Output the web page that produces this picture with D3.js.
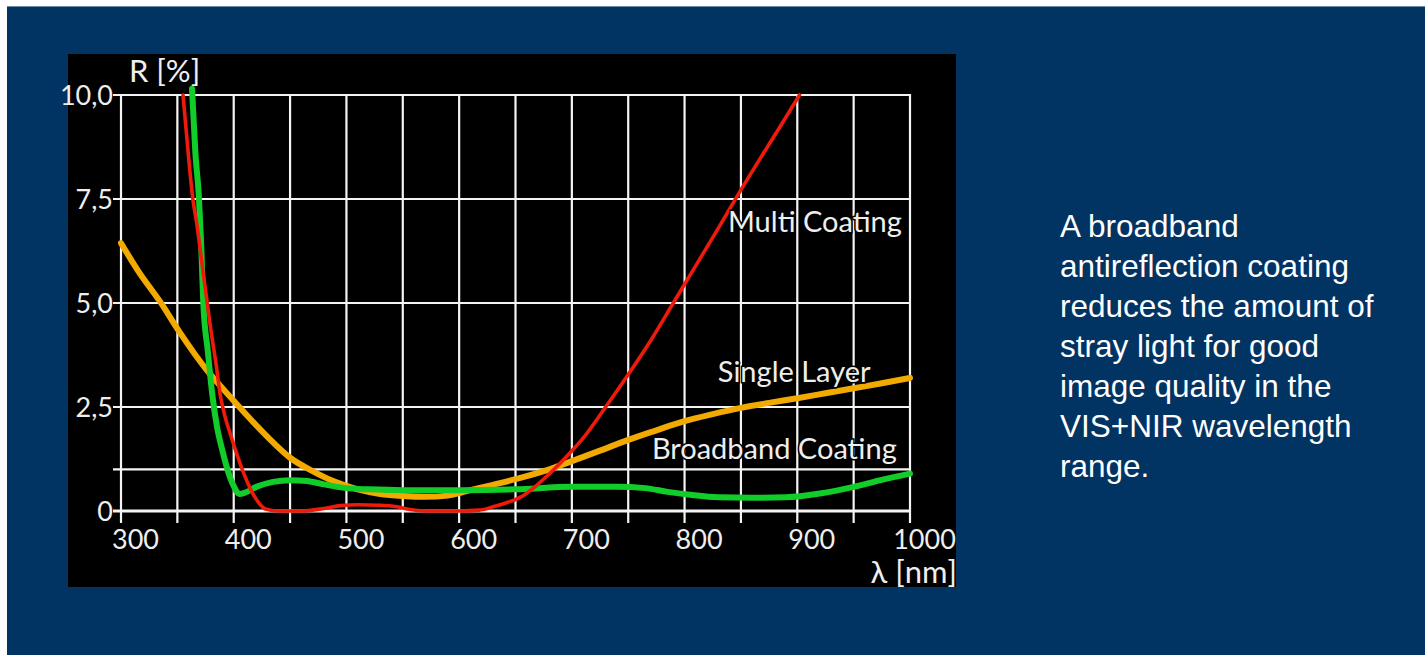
<!DOCTYPE html>
<html>
<head>
<meta charset="utf-8">
<script src="https://cdn.jsdelivr.net/npm/d3@7"></script>
<style>
  html, body { margin: 0; padding: 0; background: #ffffff; }
  svg { display: block; }
</style>
</head>
<body>
<svg id="chart" width="1425" height="655"></svg>
<script>
// Reflectance R [%] versus wavelength λ [nm] for three lens coatings.

// Single layer coating
const singleNm = [300, 315, 335, 352, 376, 397, 410, 430, 450, 470, 490, 510, 530, 550, 570, 590, 610, 630, 655, 680, 700, 725, 750, 775, 800, 825, 850, 875, 900, 925, 950, 975, 1000];
const singleR  = [6.44, 5.78, 5.02, 4.30, 3.39, 2.74, 2.35, 1.78, 1.28, 0.96, 0.70, 0.52, 0.41, 0.36, 0.34, 0.37, 0.50, 0.63, 0.80, 1.00, 1.20, 1.45, 1.71, 1.94, 2.16, 2.33, 2.48, 2.60, 2.71, 2.83, 2.95, 3.07, 3.20];

// Broadband coating
const broadNm = [363, 366, 369, 371, 373, 377, 381, 385, 390, 395, 400, 405, 410, 420, 435, 450, 465, 480, 500, 520, 550, 600, 650, 700, 740, 765, 785, 805, 830, 860, 890, 920, 950, 975, 1000];
const broadR  = [10.15, 8.6, 7.6, 6.5, 5.0, 3.85, 2.8, 2.05, 1.45, 0.95, 0.6, 0.41, 0.44, 0.58, 0.70, 0.74, 0.72, 0.64, 0.55, 0.52, 0.50, 0.50, 0.52, 0.58, 0.58, 0.55, 0.46, 0.39, 0.33, 0.32, 0.33, 0.42, 0.58, 0.75, 0.90];

// Multi coating
const multiNm = [355, 358, 361, 364, 367, 370, 373, 376, 380, 384, 388, 392, 397, 403, 409, 414, 420, 428, 440, 460, 480, 495, 510, 530, 545, 555, 570, 600, 618, 630, 642, 655, 668, 681, 695, 710, 730, 750, 770, 790, 810, 830, 850, 870, 885, 902];
const multiR  = [10.0, 9.1, 8.2, 7.45, 6.95, 6.35, 5.7, 5.1, 4.3, 3.6, 2.8, 2.3, 1.85, 1.35, 0.9, 0.58, 0.28, 0.05, 0.0, 0.0, 0.06, 0.13, 0.15, 0.14, 0.10, 0.04, 0.0, 0.0, 0.02, 0.10, 0.20, 0.34, 0.60, 0.92, 1.30, 1.75, 2.50, 3.28, 4.10, 5.00, 5.90, 6.80, 7.72, 8.60, 9.25, 10.0];

// Axis ticks and labels
const xTicks = [300, 350, 400, 450, 500, 550, 600, 650, 700, 750, 800, 850, 900, 950, 1000];
const xTickLabels = ["300", "", "400", "", "500", "", "600", "", "700", "", "800", "", "900", "", "1000"];
const yTicks = [0, 1, 2.5, 5, 7.5, 10];
const yTickLabels = ["0", "", "2,5", "5,0", "7,5", "10,0"];

const seriesNames = ["Single Layer", "Broadband Coating", "Multi Coating"];
const seriesColors = ["#f2aa00", "#12cc2a", "#ee1a0a"];
const seriesWidths = [6, 6, 3.6];

const note = ["A broadband", "antireflection coating", "reduces the amount of",
              "stray light for good", "image quality in the", "VIS+NIR wavelength", "range."];

// ---- layout ----
const svg = d3.select("#chart");
const chartFont = "Lato, 'Open Sans', sans-serif";
const labelColor = "#eeeeee";

svg.append("rect").attr("x", 7).attr("y", 6).attr("width", 1418).attr("height", 649).attr("fill", "#013363");
svg.append("line").attr("x1", 7).attr("x2", 1425).attr("y1", 6.5).attr("y2", 6.5).attr("stroke", "#6f8aa6").attr("stroke-width", 1);
svg.append("rect").attr("x", 68).attr("y", 54).attr("width", 888).attr("height", 533).attr("fill", "#000000");

const x = d3.scaleLinear().domain([300, 1000]).range([121, 910]);
const y = d3.scaleLinear().domain([0, 10]).range([511, 95]);

const gridColor = "#f4f4f4";
const grid = svg.append("g");

// vertical grid lines, running down past the zero line as tick marks
grid.selectAll("line.v").data(xTicks).join("line")
  .attr("x1", d => x(d)).attr("x2", d => x(d))
  .attr("y1", y(10) - 1).attr("y2", y(0) + 12)
  .attr("stroke", gridColor).attr("stroke-width", 2.2);

// horizontal grid lines, starting left of the axis as tick marks
grid.selectAll("line.h").data(yTicks).join("line")
  .attr("x1", x(300) - 8).attr("x2", x(1000) + 1)
  .attr("y1", d => y(d)).attr("y2", d => y(d))
  .attr("stroke", gridColor).attr("stroke-width", d => d === 0 ? 3 : 2.2);

// axis labels through d3 axes (lines hidden, grid drawn separately)
const xAxis = d3.axisBottom(x).tickValues(xTicks)
  .tickFormat((d, i) => xTickLabels[i]).tickSize(0).tickPadding(0);
const gx = svg.append("g").attr("transform", `translate(0, ${y(0) + 38})`).call(xAxis);
gx.select(".domain").remove();
gx.selectAll("text").attr("dy", 0).attr("dx", 14)
  .attr("fill", labelColor).attr("font-family", chartFont).attr("font-size", 27);

const yAxis = d3.axisLeft(y).tickValues(yTicks)
  .tickFormat((d, i) => yTickLabels[i]).tickSize(0).tickPadding(0);
const gy = svg.append("g").attr("transform", `translate(${x(300) - 8}, 0)`).call(yAxis);
gy.select(".domain").remove();
gy.selectAll("text").attr("dy", "0.36em").attr("x", 0)
  .attr("fill", labelColor).attr("font-family", chartFont).attr("font-size", 27);

svg.append("text").attr("x", 129).attr("y", 82).text("R [%]")
  .attr("fill", labelColor).attr("font-family", chartFont).attr("font-size", 31);
svg.append("text").attr("x", 957).attr("y", 583).attr("text-anchor", "end").text("λ [nm]")
  .attr("fill", labelColor).attr("font-family", chartFont).attr("font-size", 31);

// curves
const line = d3.line().x(d => x(d[0])).y(d => y(d[1])).curve(d3.curveMonotoneX);
const series = [
  d3.zip(singleNm, singleR),
  d3.zip(broadNm, broadR),
  d3.zip(multiNm, multiR)
];
svg.append("g").selectAll("path").data(series).join("path")
  .attr("d", line)
  .attr("fill", "none")
  .attr("stroke", (d, i) => seriesColors[i])
  .attr("stroke-width", (d, i) => seriesWidths[i])
  .attr("stroke-linejoin", "round")
  .attr("stroke-linecap", "round");

// curve names placed beside their curves (start wavelength, baseline reflectance)
const nameAnchors = [[829.5, 3.1], [771, 1.25], [838.5, 6.7]];
svg.append("g").selectAll("text").data(seriesNames).join("text")
  .attr("x", (d, i) => x(nameAnchors[i][0]))
  .attr("y", (d, i) => y(nameAnchors[i][1]))
  .text(d => d)
  .attr("fill", labelColor)
  .attr("stroke", "#000000").attr("stroke-width", 3).attr("paint-order", "stroke")
  .attr("font-family", chartFont).attr("font-size", 29);

// explanatory note on the right
svg.append("g").selectAll("text").data(note).join("text")
  .attr("x", 1060).attr("y", (d, i) => 237 + i * 40)
  .text(d => d)
  .attr("fill", "#ffffff")
  .attr("font-family", "'Liberation Sans', Arial, sans-serif").attr("font-size", 31.5);
</script>
</body>
</html>
